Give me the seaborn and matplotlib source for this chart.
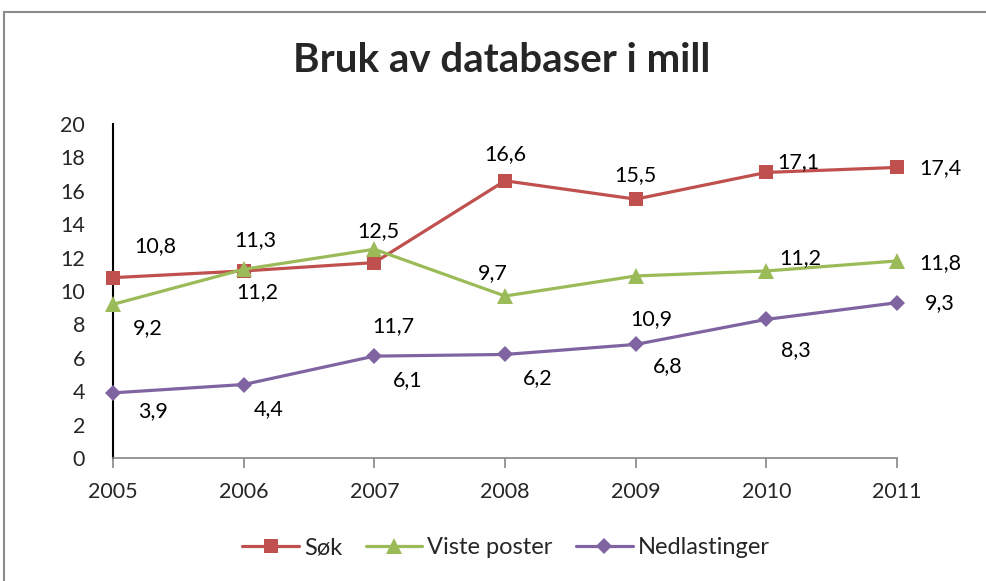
import matplotlib
matplotlib.use("Agg")
import matplotlib.pyplot as plt
import seaborn as sns
import pandas as pd
from matplotlib.patches import Rectangle

years = ["2005", "2006", "2007", "2008", "2009", "2010", "2011"]
sok = [10.8, 11.2, 11.7, 16.6, 15.5, 17.1, 17.4]
viste = [9.2, 11.3, 12.5, 9.7, 10.9, 11.2, 11.8]
ned = [3.9, 4.4, 6.1, 6.2, 6.8, 8.3, 9.3]
series_names = ["Søk", "Viste poster", "Nedlastinger"]
title = "Bruk av databaser i mill"

sns.set_style("white")
plt.rcParams['font.family'] = ['Lato', 'DejaVu Sans']

rows = []
for name, vals in zip(series_names, [sok, viste, ned]):
    for i, v in enumerate(vals):
        rows.append({"pos": i, "val": v, "series": name})
df = pd.DataFrame(rows)

W, H = 986, 581
fig = plt.figure(figsize=(W / 100, H / 100), dpi=100)
ax = fig.add_axes([113 / W, 1 - 458 / H, (897 - 113) / W, (458 - 124) / H])

palette = {"Søk": "#C0504D", "Viste poster": "#9BBB59", "Nedlastinger": "#8064A2"}
markers = {"Søk": "s", "Viste poster": "^", "Nedlastinger": "D"}
sizes = {"Søk": 10, "Viste poster": 11, "Nedlastinger": 8.5}

for name in series_names:
    sub = df[df.series == name]
    sns.lineplot(data=sub, x="pos", y="val", color=palette[name], marker=markers[name],
                 markersize=sizes[name], markeredgewidth=0, linewidth=2.3, ax=ax,
                 label=name, clip_on=False, zorder=3)

# label offsets in pixels (dx, dy) -- display y upward
offs = {
    "Søk": [(42, 32), (14, -21), (19, -63), (0, 27), (0, 24), (32, 10), (43, -1)],
    "Viste poster": [(35, -24), (12, 29), (4, 18), (-12, 23), (16, -43), (34, 13), (43, -2)],
    "Nedlastinger": [(40, -18), (25, -25), (33, -24), (33, -24), (32, -22), (30, -31), (43, 0)],
}
for name, vals in zip(series_names, [sok, viste, ned]):
    for i, v in enumerate(vals):
        dx, dy = offs[name][i]
        ax.annotate(f"{v:.1f}".replace(".", ","), (i, v), xytext=(dx, dy),
                    textcoords="offset pixels", ha="center", va="center",
                    fontsize=15.5, color="black")

ax.set_xlim(0, 6)
ax.set_ylim(0, 20)
ax.set_xticks(range(len(years)))
ax.set_xticklabels(years)
ax.set_yticks(range(0, 21, 2))
ax.set_xlabel("")
ax.set_ylabel("")
for s in ["top", "right"]:
    ax.spines[s].set_visible(False)
ax.spines["left"].set_color("black")
ax.spines["left"].set_linewidth(1.5)
ax.spines["bottom"].set_color("#868686")
ax.spines["bottom"].set_linewidth(1.2)
ax.tick_params(axis="x", length=7, width=1.2, color="#868686", direction="out",
               labelsize=15.5, pad=10, bottom=True)
ax.tick_params(axis="y", length=0, labelsize=15.5, pad=20)
for lab in ax.get_yticklabels():
    lab.set_horizontalalignment("right")
ax.grid(False)

fig.text(502 / W, 1 - 60 / H, title, ha="center", va="center",
         fontsize=29, fontweight="bold")

leg = ax.legend(loc="center", bbox_to_anchor=(506 / W, 1 - 548 / H),
                bbox_transform=fig.transFigure, ncol=3, frameon=False,
                fontsize=17, handlelength=2.4, columnspacing=1.0, handletextpad=0.2)

fig.patches.append(Rectangle((4 / W, -0.01), 1.0, 1 - 12 / H + 0.01,
                             transform=fig.transFigure, fill=False,
                             edgecolor="#8c8c8c", linewidth=1.5))

fig.savefig("out.png", dpi=100)
